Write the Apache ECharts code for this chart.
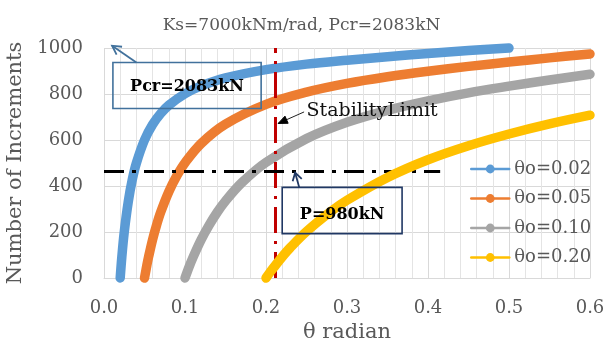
<!DOCTYPE html>
<html>
<head>
<meta charset="utf-8">
<script src="https://cdn.jsdelivr.net/npm/echarts@6/dist/echarts.min.js"></script>
<style>html,body{margin:0;padding:0;background:#fff;}#c{width:603px;height:338px;}</style>
</head>
<body>
<div id="c"></div>
<script>
// ---- data ----
const seriesNames = ['θo=0.02', 'θo=0.05', 'θo=0.10', 'θo=0.20'];
const theta002 = [0.020,0.022,0.025,0.030,0.035,0.040,0.050,0.060,0.070,0.080,0.100,0.120,0.150,0.200,0.250,0.300,0.350,0.400,0.450,0.500];
const inc002   = [0,91,200,333,429,500,600,667,715,751,801,835,870,906,930,947,962,976,989,1000];
const theta005 = [0.050,0.053,0.055,0.060,0.065,0.070,0.080,0.090,0.100,0.120,0.150,0.200,0.250,0.300,0.350,0.400,0.450,0.500,0.550,0.600];
const inc005   = [0,57,91,167,231,286,375,445,501,585,669,755,808,846,875,899,920,939,957,974];
const theta010 = [0.100,0.105,0.110,0.120,0.130,0.140,0.150,0.170,0.200,0.250,0.300,0.350,0.400,0.450,0.500,0.550,0.600];
const inc010   = [0,48,91,167,231,287,335,414,503,606,677,729,770,805,834,861,886];
const theta020 = [0.200,0.205,0.210,0.220,0.230,0.250,0.280,0.300,0.350,0.400,0.450,0.500,0.550,0.600];
const inc020   = [0,25,48,92,132,202,289,338,437,514,575,626,670,708];
const stabilityTheta = 0.212;
const loadLevel = 466;       // P = 980 kN
const loadLineEnd = 0.415;
const xTicks = [0, 0.1, 0.2, 0.3, 0.4, 0.5, 0.6];
const yTicks = [0, 200, 400, 600, 800, 1000];

const colors = ['#5B9BD5', '#ED7D31', '#A5A5A5', '#FFC000'];
const serif = '"DejaVu Serif", serif';
const grayText = '#595959';

function pairs(xs, ys) { return xs.map((x, i) => [x, ys[i]]); }
const allData = [pairs(theta002, inc002), pairs(theta005, inc005), pairs(theta010, inc010), pairs(theta020, inc020)];

const chart = echarts.init(document.getElementById('c'), null, {renderer: 'canvas'});

const series = allData.map((d, i) => ({
  name: seriesNames[i],
  type: 'line',
  data: d,
  smooth: 0.35,
  symbol: 'circle',
  showSymbol: false,
  clip: false,
  color: colors[i],
  lineStyle: {width: 9.5, color: colors[i], cap: 'round', join: 'round'},
  emphasis: {disabled: true},
  z: 2 + i
}));

series[3].markLine = {
  silent: true,
  symbol: ['none', 'none'],
  label: {show: false},
  emphasis: {disabled: true},
  data: [
    [{coord: [stabilityTheta, yTicks[0]], lineStyle: {color: '#C00000', width: 3, type: [26, 8, 3, 8]}},
     {coord: [stabilityTheta, yTicks[yTicks.length - 1]]}],
    [{coord: [xTicks[0], loadLevel], lineStyle: {color: '#000000', width: 3, type: [20, 8, 4, 8]}},
     {coord: [loadLineEnd, loadLevel]}]
  ]
};

chart.setOption({
  animation: false,
  backgroundColor: '#ffffff',
  title: {
    text: 'Ks=7000kNm/rad, Pcr=2083kN',
    left: 'center',
    top: 12,
    textStyle: {fontFamily: serif, fontSize: 17, fontWeight: 'normal', color: grayText}
  },
  legend: {
    orient: 'vertical',
    left: 470,
    top: 160,
    padding: 0,
    itemWidth: 38,
    itemHeight: 11,
    itemGap: 11.5,
    data: seriesNames,
    lineStyle: {width: 2.5},
    textStyle: {fontFamily: serif, fontSize: 18, color: grayText},
    selectedMode: false
  },
  grid: {left: 104, right: 13, top: 48, bottom: 60, containLabel: false, outerBoundsMode: 'none'},
  xAxis: {
    type: 'value',
    min: xTicks[0],
    max: xTicks[xTicks.length - 1],
    interval: 0.1,
    name: 'θ radian',
    nameLocation: 'middle',
    nameGap: 35,
    nameTextStyle: {fontFamily: serif, fontSize: 21, color: grayText},
    axisLine: {show: true, lineStyle: {color: '#d9d9d9', width: 1}},
    axisTick: {show: false},
    axisLabel: {fontFamily: serif, fontSize: 18, color: grayText, margin: 21, formatter: v => v.toFixed(1)},
    splitLine: {show: true, lineStyle: {color: '#d9d9d9', width: 1}},
    minorTick: {show: false, splitNumber: 5},
    minorSplitLine: {show: true, lineStyle: {color: '#e4e4e4', width: 1}}
  },
  yAxis: {
    type: 'value',
    min: yTicks[0],
    max: yTicks[yTicks.length - 1],
    interval: 200,
    name: 'Number of Increments',
    nameLocation: 'middle',
    nameGap: 75,
    nameTextStyle: {fontFamily: serif, fontSize: 21, color: grayText},
    axisLine: {show: false},
    axisTick: {show: false},
    axisLabel: {fontFamily: serif, fontSize: 18, color: grayText, margin: 21, formatter: v => String(v)},
    splitLine: {show: true, lineStyle: {color: '#d9d9d9', width: 1}}
  },
  series: series
});

// ---- annotations placed in data coordinates ----
function px(x, y) { return chart.convertToPixel({gridIndex: 0}, [x, y]); }
function arrowHead(tail, head, len, spread) {
  const dx = head[0] - tail[0], dy = head[1] - tail[1];
  const a = Math.atan2(dy, dx);
  return [
    [head[0] - len * Math.cos(a - spread), head[1] - len * Math.sin(a - spread)],
    head,
    [head[0] - len * Math.cos(a + spread), head[1] - len * Math.sin(a + spread)]
  ];
}
function boxFrom(p1, p2) {
  return {x: Math.min(p1[0], p2[0]), y: Math.min(p1[1], p2[1]), width: Math.abs(p2[0] - p1[0]), height: Math.abs(p2[1] - p1[1])};
}

const g = [];
// Pcr box
(function () {
  const c = '#41719C';
  const b = boxFrom(px(0.011, 937), px(0.194, 737));
  g.push({type: 'rect', shape: b, style: {fill: 'none', stroke: c, lineWidth: 1.6}, z: 50});
  g.push({type: 'text', x: b.x + b.width / 2, y: b.y + b.height / 2 + 1,
    style: {text: 'Pcr=2083kN', font: 'bold 16px "DejaVu Serif"', fill: '#000', align: 'center', verticalAlign: 'middle'}, z: 51});
  const tail = px(0.040, 937), head = px(0.010, 1010);
  g.push({type: 'line', shape: {x1: tail[0], y1: tail[1], x2: head[0], y2: head[1]}, style: {stroke: c, lineWidth: 1.8}, z: 50});
  g.push({type: 'polyline', shape: {points: arrowHead(tail, head, 10, 0.5)}, style: {stroke: c, lineWidth: 1.8, fill: 'none'}, z: 50});
})();
// Stability limit label
(function () {
  const t = px(0.250, 727);
  g.push({type: 'text', x: t[0], y: t[1],
    style: {text: 'StabilityLimit', font: '19px "DejaVu Serif"', fill: '#111', align: 'left', verticalAlign: 'middle'}, z: 51});
  const tail = px(0.247, 722), head = px(0.215, 672);
  g.push({type: 'line', shape: {x1: tail[0], y1: tail[1], x2: head[0], y2: head[1]}, style: {stroke: '#222', lineWidth: 1}, z: 50});
  const ah = arrowHead(tail, head, 10, 0.4);
  g.push({type: 'polygon', shape: {points: ah}, style: {fill: '#000', stroke: '#000', lineWidth: 1}, z: 50});
})();
// P = 980 kN box
(function () {
  const c = '#203864';
  const b = boxFrom(px(0.220, 394), px(0.368, 193));
  g.push({type: 'rect', shape: b, style: {fill: 'none', stroke: c, lineWidth: 1.6}, z: 50});
  g.push({type: 'text', x: b.x + b.width / 2, y: b.y + b.height / 2 + 4,
    style: {text: 'P=980kN', font: 'bold 16px "DejaVu Serif"', fill: '#000', align: 'center', verticalAlign: 'middle'}, z: 51});
  const tail = px(0.241, 394), head = px(0.236, 458);
  g.push({type: 'line', shape: {x1: tail[0], y1: tail[1], x2: head[0], y2: head[1]}, style: {stroke: c, lineWidth: 1.8}, z: 50});
  g.push({type: 'polyline', shape: {points: arrowHead(tail, head, 9, 0.55)}, style: {stroke: c, lineWidth: 1.8, fill: 'none'}, z: 50});
})();

chart.setOption({graphic: {elements: g}});
</script>
</body>
</html>
